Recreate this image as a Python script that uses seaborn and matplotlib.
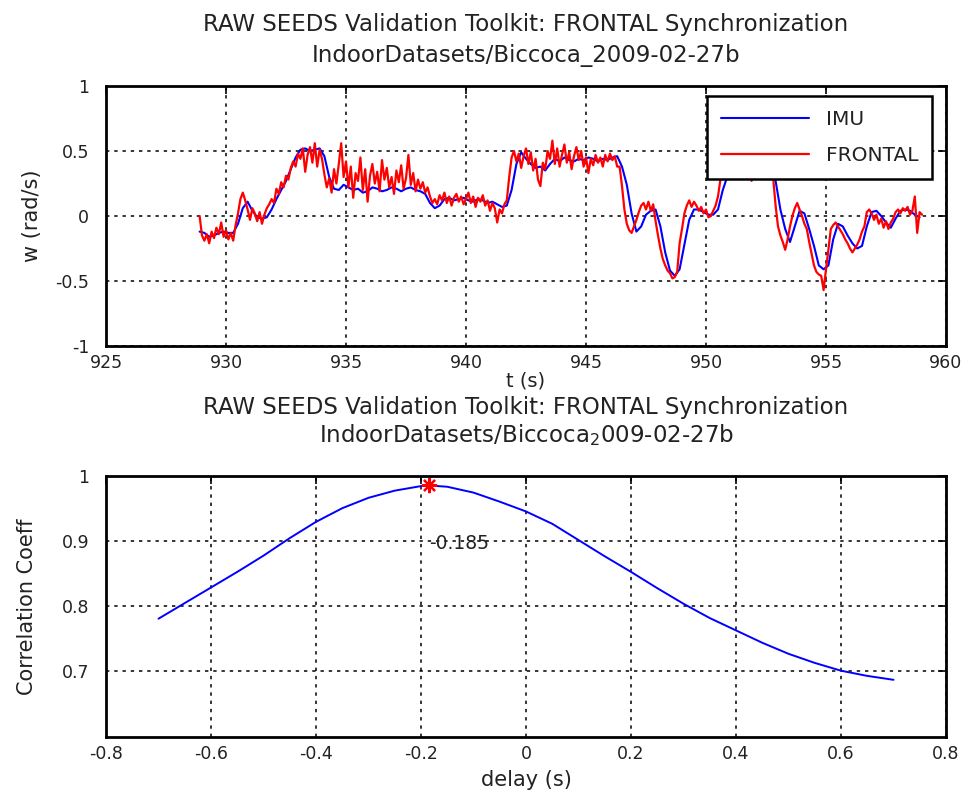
import numpy as np
import pandas as pd
import matplotlib
matplotlib.use("Agg")
import matplotlib.pyplot as plt
import seaborn as sns
from matplotlib.ticker import FuncFormatter

# ---------------------------------------------------------------- data
# Angular rate of the IMU (sampled every 0.2 s)
imu_t0, imu_dt = 928.9, 0.2
imu_w = [
    -0.12, -0.13, -0.16, -0.15, -0.13, -0.12, -0.13, -0.13, -0.06, 0.06,
    0.11, 0.04, -0.01, -0.02, -0.01, 0.05, 0.13, 0.20, 0.27, 0.36,
    0.45, 0.51, 0.52, 0.50, 0.51, 0.52, 0.46, 0.30, 0.21, 0.20,
    0.24, 0.22, 0.20, 0.21, 0.18, 0.19, 0.22, 0.21, 0.19, 0.20,
    0.22, 0.21, 0.19, 0.21, 0.22, 0.20, 0.19, 0.17, 0.10, 0.06,
    0.08, 0.13, 0.14, 0.12, 0.13, 0.14, 0.12, 0.11, 0.13, 0.12,
    0.10, 0.11, 0.09, 0.07, 0.08, 0.20, 0.40, 0.49, 0.44, 0.40,
    0.37, 0.38, 0.35, 0.40, 0.44, 0.42, 0.45, 0.43, 0.42, 0.44,
    0.43, 0.45, 0.44, 0.42, 0.44, 0.43, 0.45, 0.46, 0.38, 0.24,
    0.02, -0.12, -0.08, 0.01, 0.04, 0.05, -0.08, -0.28, -0.42, -0.46,
    -0.41, -0.22, -0.03, 0.05, 0.05, 0.03, 0.01, 0.01, 0.05, 0.20,
    0.31, 0.38, 0.42, 0.43, 0.41, 0.42, 0.40, 0.39, 0.38, 0.34,
    0.27, 0.05, -0.10, -0.20, -0.08, 0.04, 0.02, -0.10, -0.23, -0.38,
    -0.41, -0.38, -0.18, -0.06, -0.08, -0.15, -0.21, -0.25, -0.23, -0.08,
    0.03, 0.04, 0.00, -0.05, -0.09, -0.02, 0.04, 0.05, 0.04, 0.01,
    -0.01,
]

# Angular rate estimated from the FRONTAL camera (sampled every 0.1 s)
frontal_t0, frontal_dt = 928.9, 0.1
frontal_w = [
    0.00, -0.15, -0.19, -0.14, -0.21, -0.12, -0.17, -0.09, -0.14, -0.05,
    -0.16, -0.11, -0.18, -0.13, -0.19, -0.07, 0.02, 0.13, 0.18, 0.12,
    0.05, -0.03, 0.06, 0.02, -0.04, 0.03, -0.06, 0.01, 0.06, 0.09,
    0.13, 0.10, 0.21, 0.17, 0.26, 0.22, 0.31, 0.28, 0.37, 0.42,
    0.38, 0.48, 0.44, 0.52, 0.34, 0.47, 0.53, 0.41, 0.56, 0.38,
    0.51, 0.44, 0.32, 0.22, 0.29, 0.18, 0.36, 0.25, 0.40, 0.56,
    0.30, 0.42, 0.22, 0.38, 0.14, 0.33, 0.27, 0.45, 0.20, 0.36,
    0.11, 0.31, 0.40, 0.25, 0.34, 0.19, 0.43, 0.28, 0.37, 0.22,
    0.30, 0.17, 0.35, 0.26, 0.39, 0.21, 0.29, 0.47, 0.24, 0.33,
    0.19, 0.28, 0.21, 0.26, 0.18, 0.22, 0.15, 0.10, 0.13, 0.09,
    0.16, 0.12, 0.18, 0.10, 0.15, 0.08, 0.14, 0.17, 0.11, 0.15,
    0.09, 0.13, 0.18, 0.10, 0.15, 0.07, 0.14, 0.11, 0.16, 0.08,
    0.12, 0.04, 0.10, 0.06, -0.05, 0.05, 0.02, 0.09, 0.12, 0.30,
    0.45, 0.50, 0.42, 0.48, 0.37, 0.46, 0.52, 0.40, 0.49, 0.35,
    0.44, 0.28, 0.23, 0.41, 0.36, 0.50, 0.44, 0.58, 0.40, 0.52,
    0.38, 0.47, 0.55, 0.41, 0.49, 0.36, 0.46, 0.53, 0.43, 0.50,
    0.38, 0.45, 0.33, 0.44, 0.39, 0.47, 0.41, 0.45, 0.38, 0.47,
    0.42, 0.48, 0.43, 0.46, 0.38, 0.38, 0.23, 0.05, -0.06, -0.11,
    -0.13, -0.08, -0.03, 0.03, 0.08, 0.10, 0.05, 0.11, 0.04, 0.09,
    -0.04, -0.15, -0.25, -0.33, -0.38, -0.42, -0.44, -0.48, -0.47, -0.43,
    -0.21, -0.10, 0.02, 0.08, 0.12, 0.07, 0.11, 0.08, 0.04, 0.07,
    0.02, 0.05, -0.01, 0.00, 0.04, 0.08, 0.15, 0.28, 0.36, 0.42,
    0.38, 0.45, 0.40, 0.48, 0.36, 0.44, 0.39, 0.47, 0.33, 0.42,
    0.27, 0.40, 0.35, 0.29, 0.41, 0.34, 0.38, 0.32, 0.36, 0.29,
    0.08, -0.08, -0.15, -0.20, -0.26, -0.18, -0.08, 0.00, 0.06, 0.10,
    0.05, 0.00, -0.06, -0.10, -0.20, -0.29, -0.38, -0.43, -0.45, -0.46,
    -0.57, -0.41, -0.26, -0.10, -0.07, -0.05, -0.08, -0.11, -0.14, -0.18,
    -0.21, -0.25, -0.28, -0.25, -0.22, -0.18, -0.12, -0.08, 0.03, 0.05,
    0.02, -0.03, 0.01, -0.06, -0.02, -0.09, -0.04, -0.10, -0.05, -0.02,
    0.03, 0.05, 0.02, 0.06, 0.04, 0.07, 0.01, 0.04, 0.15, -0.13,
    0.03, 0.01,
]

# Correlation coefficient between the two signals as a function of delay
delay_s = [-0.70, -0.65, -0.60, -0.55, -0.50, -0.45, -0.40, -0.35, -0.30,
           -0.25, -0.20, -0.185, -0.15, -0.10, -0.05, 0.00, 0.05, 0.10,
           0.15, 0.20, 0.25, 0.30, 0.35, 0.40, 0.45, 0.50, 0.55, 0.60,
           0.65, 0.70]
corr_coeff = [0.780, 0.804, 0.828, 0.852, 0.877, 0.904, 0.929, 0.950, 0.966,
              0.977, 0.984, 0.985, 0.983, 0.974, 0.960, 0.945, 0.926, 0.901,
              0.876, 0.852, 0.827, 0.803, 0.781, 0.762, 0.743, 0.726, 0.712,
              0.700, 0.692, 0.686]
peak_delay = -0.185
peak_corr = 0.985

title_line = "RAW SEEDS Validation Toolkit: FRONTAL Synchronization"
dataset_name = "IndoorDatasets/Biccoca_2009-02-27b"

top_xticks = [925, 930, 935, 940, 945, 950, 955, 960]
top_yticks = [-1, -0.5, 0, 0.5, 1]
bot_xticks = [-0.8, -0.6, -0.4, -0.2, 0, 0.2, 0.4, 0.6, 0.8]
bot_yticks = [0.7, 0.8, 0.9, 1.0]

# ---------------------------------------------------------------- frames
imu = pd.DataFrame({"t": imu_t0 + imu_dt * np.arange(len(imu_w)), "w": imu_w})
frontal = pd.DataFrame({"t": frontal_t0 + frontal_dt * np.arange(len(frontal_w)),
                        "w": frontal_w})
xcorr = pd.DataFrame({"delay": delay_s, "corr": corr_coeff})

# ---------------------------------------------------------------- style
sns.set_theme(style="white")
plt.rcParams["font.family"] = ["DejaVu Sans"]
plt.rcParams["axes.unicode_minus"] = False
plt.rcParams["axes.edgecolor"] = "black"
plt.rcParams["axes.linewidth"] = 2.0

fig = plt.figure(figsize=(9.61, 7.96), dpi=100)
W, H = 961.0, 796.0


def axes_px(left, top, right, bottom):
    return fig.add_axes([left / W, 1 - bottom / H, (right - left) / W, (bottom - top) / H])


ax1 = axes_px(106, 86, 946, 346)
ax2 = axes_px(106, 475.7, 946, 737)

BLUE = "#0000ff"
RED = "#ff0000"
TXT = "#222222"
TICK_FS = 12.5
LABEL_FS = 15
TITLE_FS = 16.5


def matlab_axes(ax):
    ax.set_facecolor("white")
    ax.grid(True, color="black", linestyle=(0, (2.2, 3.2)), linewidth=1.1)
    ax.set_axisbelow(True)
    for s in ax.spines.values():
        s.set_visible(True)
        s.set_color("black")
        s.set_linewidth(2.0)
    ax.tick_params(direction="in", length=6, width=1.2, colors="black",
                   top=True, right=True, labelsize=TICK_FS, labelcolor=TXT)
    ax.tick_params(axis="y", pad=12)
    ax.tick_params(axis="x", pad=6)


fmt = FuncFormatter(lambda v, p: ("%g" % round(v, 6)))

# ---------------------------------------------------------------- top panel
sns.lineplot(data=imu, x="t", y="w", ax=ax1, color=BLUE, linewidth=1.5,
             label="IMU", estimator=None, sort=False)
sns.lineplot(data=frontal, x="t", y="w", ax=ax1, color=RED, linewidth=1.6,
             label="FRONTAL", estimator=None, sort=False)
ax1.set_xlim(925, 960)
ax1.set_ylim(-1, 1)
ax1.set_xticks(top_xticks)
ax1.set_yticks(top_yticks)
ax1.xaxis.set_major_formatter(fmt)
ax1.yaxis.set_major_formatter(fmt)
matlab_axes(ax1)
ax1.set_xlabel("t (s)", fontsize=14, color=TXT)
ax1.set_ylabel("w (rad/s)", fontsize=LABEL_FS, color=TXT)
# keep the time label clear of the lower panel's title
ax1.xaxis.set_label_coords(0.5, -0.098)
ax1.yaxis.set_label_coords(-0.076, 0.5)
leg = ax1.legend(loc="upper right", bbox_to_anchor=(0.983, 0.9615),
                 borderaxespad=0, frameon=True, fancybox=False,
                 edgecolor="black", framealpha=1, fontsize=14.5,
                 handlelength=4.4, handletextpad=0.8, borderpad=0.68,
                 labelspacing=0.85)
leg.get_frame().set_linewidth(1.8)
for t in leg.get_texts():
    t.set_color(TXT)

# ---------------------------------------------------------------- bottom panel
sns.lineplot(data=xcorr, x="delay", y="corr", ax=ax2, color=BLUE,
             linewidth=1.4, estimator=None, sort=False)
ax2.plot([peak_delay], [peak_corr], marker=(8, 2, 0), color=RED,
         markersize=11, markeredgewidth=1.6, linestyle="none")
ax2.text(peak_delay, peak_corr - 0.09, "%g" % peak_delay, fontsize=13.5,
         color=TXT, ha="left", va="center")
ax2.set_xlim(-0.8, 0.8)
ax2.set_ylim(0.598, 1.0)
ax2.set_xticks(bot_xticks)
ax2.set_yticks(bot_yticks)
ax2.xaxis.set_major_formatter(fmt)
ax2.yaxis.set_major_formatter(fmt)
matlab_axes(ax2)
ax2.set_xlabel("delay (s)", fontsize=LABEL_FS, color=TXT)
ax2.set_ylabel("Correlation Coeff", fontsize=LABEL_FS, color=TXT)
ax2.xaxis.set_label_coords(0.5, -0.125)
ax2.yaxis.set_label_coords(-0.082, 0.5)

# ---------------------------------------------------------------- titles
cx = (106 + 946) / 2 / W
fig.text(cx, 1 - 31 / H, title_line, fontsize=TITLE_FS, color=TXT,
         ha="center", va="baseline")
fig.text(cx, 1 - 62 / H, dataset_name, fontsize=TITLE_FS, color=TXT,
         ha="center", va="baseline")
fig.text(cx, 1 - 414 / H, title_line, fontsize=TITLE_FS, color=TXT,
         ha="center", va="baseline")
# the underscore in the dataset name is read as a subscript here
fig.text(cx, 1 - 442 / H, dataset_name.replace("_2", "$_2$", 1),
         fontsize=TITLE_FS, color=TXT, ha="center", va="baseline")

fig.savefig("out.png", dpi=100, facecolor="white")
